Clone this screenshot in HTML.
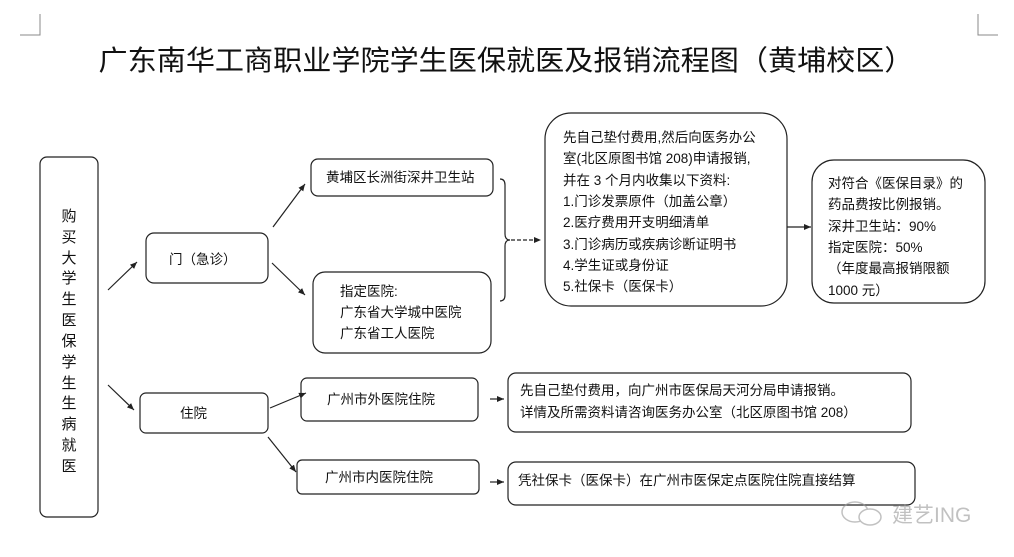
<!DOCTYPE html>
<html><head><meta charset="utf-8"><style>
html,body{margin:0;padding:0;background:#fff;}
svg{display:block;}
text{font-family:"Liberation Sans","Noto Sans CJK SC","WenQuanYi Zen Hei",sans-serif;fill:#111;}
</style></head><body>
<svg width="1014" height="557" viewBox="0 0 1014 557" xmlns="http://www.w3.org/2000/svg">
<defs><marker id="a" markerWidth="8" markerHeight="8" refX="7" refY="4" orient="auto" markerUnits="userSpaceOnUse"><path d="M0,1 L7,4 L0,7 z" fill="#222"/></marker></defs>
<g stroke="#888" stroke-width="1" fill="none">
<path d="M40,14 V35 H20"/><path d="M978,14 V35 H998"/>
</g>
<text x="506" y="70" font-size="28" text-anchor="middle" textLength="815" lengthAdjust="spacingAndGlyphs">广东南华工商职业学院学生医保就医及报销流程图（黄埔校区）</text>
<g stroke="#222" stroke-width="1.2" fill="none">
<rect x="40" y="157" width="58" height="360" rx="7"/>
<rect x="146" y="233" width="122" height="50" rx="8"/>
<rect x="311" y="159" width="182" height="37" rx="7"/>
<rect x="313" y="272" width="178" height="81" rx="12"/>
<rect x="545" y="113" width="242" height="193" rx="26"/>
<rect x="812" y="160" width="173" height="143" rx="22"/>
<rect x="140" y="393" width="128" height="40" rx="6"/>
<rect x="301" y="378" width="177" height="43" rx="6"/>
<rect x="297" y="460" width="182" height="34" rx="5"/>
<rect x="508" y="373" width="403" height="59" rx="8"/>
<rect x="508" y="462" width="407" height="43" rx="8"/>
<path d="M500,179 Q505,179 505,185 V234 Q505,240 510,240 Q505,240 505,246 V295 Q505,301 500,301"/>
<path d="M511,240 H541" stroke-dasharray="4,2" marker-end="url(#a)"/>
<line x1="108" y1="290" x2="137" y2="262" marker-end="url(#a)"/>
<line x1="273" y1="227" x2="305" y2="184" marker-end="url(#a)"/>
<line x1="272" y1="263" x2="305" y2="295" marker-end="url(#a)"/>
<line x1="787" y1="227" x2="811" y2="227" marker-end="url(#a)"/>
<line x1="108" y1="385" x2="134" y2="410" marker-end="url(#a)"/>
<line x1="270" y1="408" x2="306" y2="393" marker-end="url(#a)"/>
<line x1="268" y1="437" x2="296" y2="472" marker-end="url(#a)"/>
<line x1="490" y1="399" x2="504" y2="399" marker-end="url(#a)"/>
<line x1="490" y1="482" x2="504" y2="482" marker-end="url(#a)"/>
</g>
<g font-size="15" text-anchor="middle">
<text x="69" y="221">购</text><text x="69" y="242">买</text><text x="69" y="263">大</text><text x="69" y="283">学</text><text x="69" y="304">生</text><text x="69" y="325">医</text><text x="69" y="346">保</text><text x="69" y="367">学</text><text x="69" y="388">生</text><text x="69" y="408">生</text><text x="69" y="429">病</text><text x="69" y="450">就</text><text x="69" y="471">医</text>
</g>
<g font-size="13.5">
<text x="169" y="264">门（急诊）</text>
<text x="326" y="182">黄埔区长洲街深井卫生站</text>
<text x="340" y="296">指定医院:</text>
<text x="340" y="317">广东省大学城中医院</text>
<text x="340" y="338">广东省工人医院</text>
<text x="563" y="142">先自己垫付费用,然后向医务办公</text>
<text x="563" y="163">室(北区原图书馆 208)申请报销,</text>
<text x="563" y="185">并在 3 个月内收集以下资料:</text>
<text x="563" y="206">1.门诊发票原件（加盖公章）</text>
<text x="563" y="227">2.医疗费用开支明细清单</text>
<text x="563" y="249">3.门诊病历或疾病诊断证明书</text>
<text x="563" y="270">4.学生证或身份证</text>
<text x="563" y="291">5.社保卡（医保卡）</text>
<text x="828" y="188">对符合《医保目录》的</text>
<text x="828" y="209">药品费按比例报销。</text>
<text x="828" y="231">深井卫生站：90%</text>
<text x="828" y="252">指定医院：50%</text>
<text x="828" y="273">（年度最高报销限额</text>
<text x="828" y="295">1000 元）</text>
<text x="180" y="418">住院</text>
<text x="327" y="404">广州市外医院住院</text>
<text x="325" y="482">广州市内医院住院</text>
<text x="520" y="395">先自己垫付费用，向广州市医保局天河分局申请报销。</text>
<text x="520" y="417">详情及所需资料请咨询医务办公室（北区原图书馆 208）</text>
<text x="518" y="485">凭社保卡（医保卡）在广州市医保定点医院住院直接结算</text>
</g>
<g opacity="0.6">
<ellipse cx="855" cy="512" rx="13" ry="10" fill="none" stroke="#999" stroke-width="1.5"/>
<ellipse cx="870" cy="517" rx="11" ry="8" fill="#fff" stroke="#999" stroke-width="1.5"/>
<text x="892" y="522" font-size="21" style="fill:#999">建艺ING</text>
</g>
</svg>
</body></html>
